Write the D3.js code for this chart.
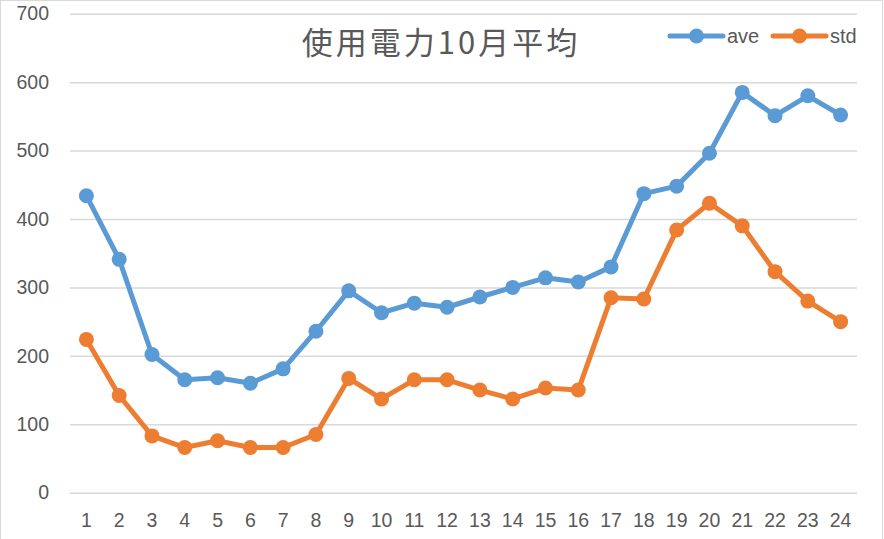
<!DOCTYPE html>
<html>
<head>
<meta charset="utf-8">
<script src="https://cdn.jsdelivr.net/npm/d3@7"></script>
<style>
  body { margin: 0; background: #fff; }
  svg { display: block; }
</style>
</head>
<body>
<svg id="chart"></svg>
<script>
// chart values
var hours = ["1","2","3","4","5","6","7","8","9","10","11","12",
             "13","14","15","16","17","18","19","20","21","22","23","24"];
var ave = [434, 341, 202, 165, 168, 160, 181, 236, 295, 263, 277, 271,
           286, 300, 314, 308, 330, 437, 448, 496, 585, 551, 580, 552];
var std = [224, 142, 83, 66, 76, 66, 66, 85, 167, 137, 165, 165,
           150, 137, 153, 150, 285, 283, 384, 423, 390, 323, 280, 250];
var yTicks = [0, 100, 200, 300, 400, 500, 600, 700];
var seriesNames = ["ave", "std"];
var titleText = "使用電力10月平均";

var svgWidth = 884, svgHeight = 539;
var plotLeft = 70, plotRight = 857, plotTop = 13.7, plotBottom = 492.7;
var colors = { ave: "#5B9BD5", std: "#ED7D31" };
var textColor = "#595959";
var labelFont = "'Liberation Sans', Arial, sans-serif";

var svg = d3.select("#chart")
    .attr("width", svgWidth)
    .attr("height", svgHeight);

// chart border
svg.append("rect")
    .attr("x", 0.5).attr("y", 0.5)
    .attr("width", 882).attr("height", svgHeight)
    .attr("fill", "none")
    .attr("stroke", "#D9D9D9");

var x = d3.scaleBand().domain(hours).range([plotLeft, plotRight]);
var y = d3.scaleLinear().domain([0, 700]).range([plotBottom, plotTop]);

// gridlines + y labels
var yAxis = d3.axisLeft(y)
    .tickValues(yTicks)
    .tickSize(-(plotRight - plotLeft))
    .tickPadding(21)
    .tickFormat(d3.format("d"));

var gy = svg.append("g")
    .attr("transform", "translate(" + plotLeft + ",0)")
    .call(yAxis);
gy.select(".domain").remove();
gy.selectAll(".tick line").attr("stroke", "#D9D9D9").attr("stroke-width", 1.5);
gy.selectAll(".tick text")
    .attr("fill", textColor)
    .style("font-family", labelFont)
    .style("font-size", "19.5px");

// x labels
var xAxis = d3.axisBottom(x).tickSize(0).tickPadding(20);
var gx = svg.append("g")
    .attr("transform", "translate(0," + plotBottom + ")")
    .call(xAxis);
gx.select(".domain").remove();
gx.selectAll(".tick text")
    .attr("fill", textColor)
    .style("font-family", labelFont)
    .style("font-size", "19.5px");

// series
var line = d3.line()
    .x(function(d, i) { return x(hours[i]) + x.bandwidth() / 2; })
    .y(function(d) { return y(d); });

[["ave", ave], ["std", std]].forEach(function(s) {
    var name = s[0], vals = s[1];
    svg.append("path")
        .datum(vals)
        .attr("d", line)
        .attr("fill", "none")
        .attr("stroke", colors[name])
        .attr("stroke-width", 5)
        .attr("stroke-linejoin", "round");
    svg.selectAll("circle." + name)
        .data(vals)
        .enter()
        .append("circle")
        .attr("class", name)
        .attr("cx", function(d, i) { return x(hours[i]) + x.bandwidth() / 2; })
        .attr("cy", function(d) { return y(d); })
        .attr("r", 7.5)
        .attr("fill", colors[name]);
});

// title
svg.append("text")
    .attr("x", 441)
    .attr("y", 54)
    .attr("text-anchor", "middle")
    .attr("fill", textColor)
    .style("font-family", "'Noto Sans CJK JP', sans-serif")
    .style("font-size", "31px")
    .style("letter-spacing", "3px")
    .text(titleText);

// legend
var legend = svg.append("g");
seriesNames.forEach(function(name, i) {
    var lx = 670 + i * 103, ly = 36;
    legend.append("line")
        .attr("x1", lx).attr("x2", lx + 53)
        .attr("y1", ly).attr("y2", ly)
        .attr("stroke", colors[name])
        .attr("stroke-width", 5)
        .attr("stroke-linecap", "round");
    legend.append("circle")
        .attr("cx", lx + 26.5).attr("cy", ly)
        .attr("r", 7.5)
        .attr("fill", colors[name]);
    legend.append("text")
        .attr("x", lx + 57)
        .attr("y", ly + 7)
        .attr("fill", textColor)
        .style("font-family", labelFont)
        .style("font-size", "20px")
        .text(name);
});
</script>
</body>
</html>
